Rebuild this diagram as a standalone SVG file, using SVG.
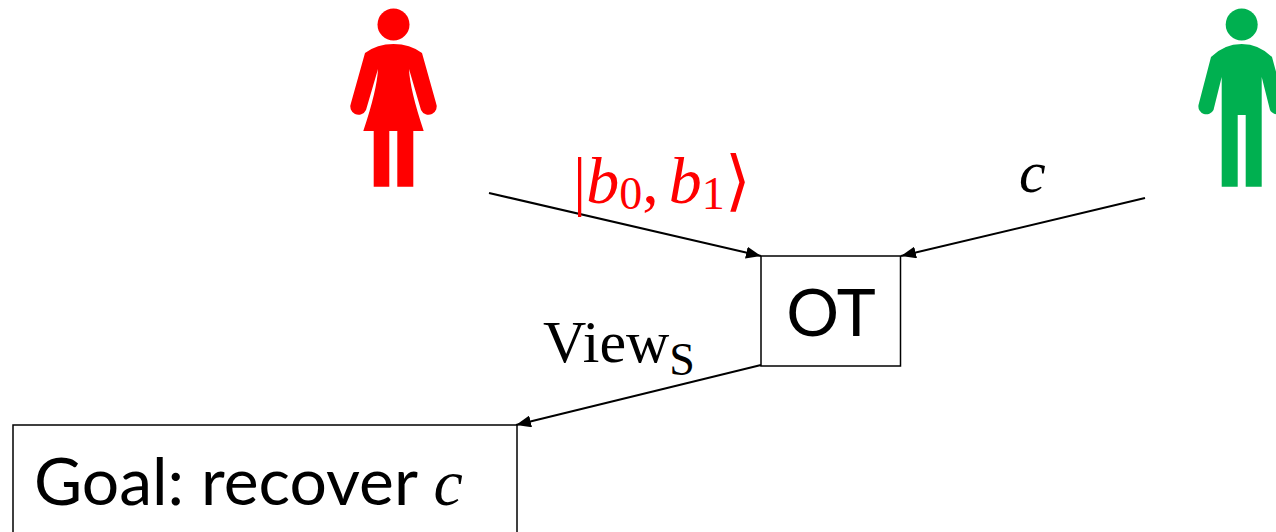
<svg xmlns="http://www.w3.org/2000/svg" width="1276" height="532" viewBox="0 0 1276 532">
<style>
.box{fill:#fff;stroke:#000;stroke-width:1.5}
.conn{fill:none;stroke:#000;stroke-width:2;marker-end:url(#ah)}
.sans{font-family:Lato,"Liberation Sans",sans-serif;font-size:66px;fill:#000}
.math{font-family:"Liberation Serif",serif;fill:#000}
.it{font-style:italic}
</style>
<defs><marker id="ah" markerUnits="userSpaceOnUse" markerWidth="16" markerHeight="12" refX="15" refY="6" orient="auto"><path d="M0 0L15 6L0 12Z" fill="#000"/></marker></defs>
<rect width="1276" height="532" fill="#fff"/>
<g id="sender" fill="#f00">
<circle cx="393.5" cy="24.5" r="16"/>
<path d="M365 53Q377 44 393.5 44Q410 44 422 53L436 103A8 8 0 0 1 421 110L409 69Q410 90 423.7 131H413.3V186.7H397.3V131H389.3V186.7H373.7V131H363.3Q377 90 378 69L366 110A8 8 0 0 1 351 103Z"/>
</g>
<g id="receiver" fill="#00b050">
<circle cx="1241.7" cy="24.5" r="16"/>
<path d="M1211 57Q1224 44 1241.7 44Q1259 44 1272 57L1285 105A8 8 0 0 1 1270 110L1261.7 77V186.7H1245.7V115H1237.7V186.7H1221.7V77L1213.5 110A8 8 0 0 1 1198.5 105Z"/>
</g>
<g id="connectors">
<line class="conn" x1="489" y1="193" x2="761" y2="256"/>
<line class="conn" x1="1145" y1="198" x2="901" y2="256"/>
<line class="conn" x1="761" y1="365" x2="516" y2="425"/>
</g>
<g id="ot"><rect class="box" x="761" y="256" width="139.500" height="110"/>
<text class="sans" x="831" y="336" text-anchor="middle">OT</text></g>
<g id="goal"><rect class="box" x="13" y="425" width="504" height="120"/>
<text class="sans" x="34" y="505">Goal: recover <tspan class="math it">c</tspan></text></g>
<g id="labels">
<text class="math" x="573" y="203" font-size="66" fill="#f00" style="fill:#f00">|<tspan class="it">b</tspan><tspan font-size="46" dy="6">0</tspan><tspan dy="-6">,</tspan><tspan dx="10" class="it">b</tspan><tspan font-size="46" dy="6">1</tspan><tspan dy="-6">⟩</tspan></text>
<text class="math it" x="1019" y="192" font-size="60">c</text>
<text class="math" x="543" y="362" font-size="60">View<tspan font-size="46" dy="13">S</tspan></text>
</g>
</svg>
